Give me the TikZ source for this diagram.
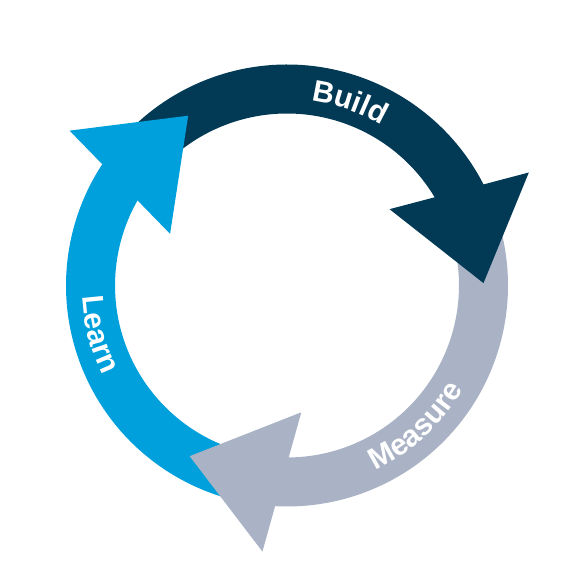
\documentclass[tikz,border=0pt]{standalone}
\usepackage{fontspec}
\usetikzlibrary{calc,decorations.text}
\newfontfamily\labfont{Liberation Sans}
\newcommand\lblstyle{\labfont\bfseries\fontsize{30}{30}\selectfont\color{white}}
\definecolor{darkc}{HTML}{023A56}
\definecolor{bluec}{HTML}{00A0DC}
\definecolor{grayc}{HTML}{A9B3C5}
\tikzset{
  lbl/.style={decorate, decoration={text along path, text align=center, text={|\lblstyle|#1}}}
}
\begin{document}
\begin{tikzpicture}[x=1pt,y=-1pt]
\useasboundingbox[fill=white] (0,0) rectangle (574,572);
\coordinate (C) at (287,285.5);
% shafts
\fill[darkc] ($(C)+(222:221)$) arc[start angle=222, end angle=333, radius=221]
  -- ($(C)+(333:172)$) arc[start angle=333, end angle=222, radius=172] -- cycle;
\fill[grayc] ($(C)+(341:221)$) arc[start angle=341, end angle=453.5, radius=221]
  -- ($(C)+(453.5:172)$) arc[start angle=453.5, end angle=341, radius=172] -- cycle;
\fill[bluec] ($(C)+(101.5:221)$) arc[start angle=101.5, end angle=213.7, radius=221]
  -- ($(C)+(213.7:172)$) arc[start angle=213.7, end angle=101.5, radius=172] -- cycle;
% heads
\coordinate (dB) at ($(C)+(331.2:196.5)$);
\coordinate (dT) at ($(C)+(359.3:196.5)$);
\coordinate (gB) at ($(C)+(91.5:196.5)$);
\coordinate (gT) at ($(C)+(119.7:196.5)$);
\coordinate (bB) at ($(C)+(211.7:196.5)$);
\coordinate (bT) at ($(C)+(239.8:196.5)$);
\fill[darkc] ($(dB)!0.755!90:(dT)$) -- (dT) -- ($(dB)!0.755!-90:(dT)$) -- cycle;
\fill[grayc] ($(gB)!0.755!90:(gT)$) -- (gT) -- ($(gB)!0.755!-90:(gT)$) -- cycle;
\fill[bluec] ($(bB)!0.755!90:(bT)$) -- (bT) -- ($(bB)!0.755!-90:(bT)$) -- cycle;
% labels
\path[lbl=Build] ($(C)+(-85:186)$) arc[start angle=-85, end angle=-57, radius=186];
\path[lbl=Measure] ($(C)+(69:205)$) arc[start angle=69, end angle=26, radius=205];
\path[lbl=Learn] ($(C)+(181:205)$) arc[start angle=181, end angle=150, radius=205];
\end{tikzpicture}
\end{document}
